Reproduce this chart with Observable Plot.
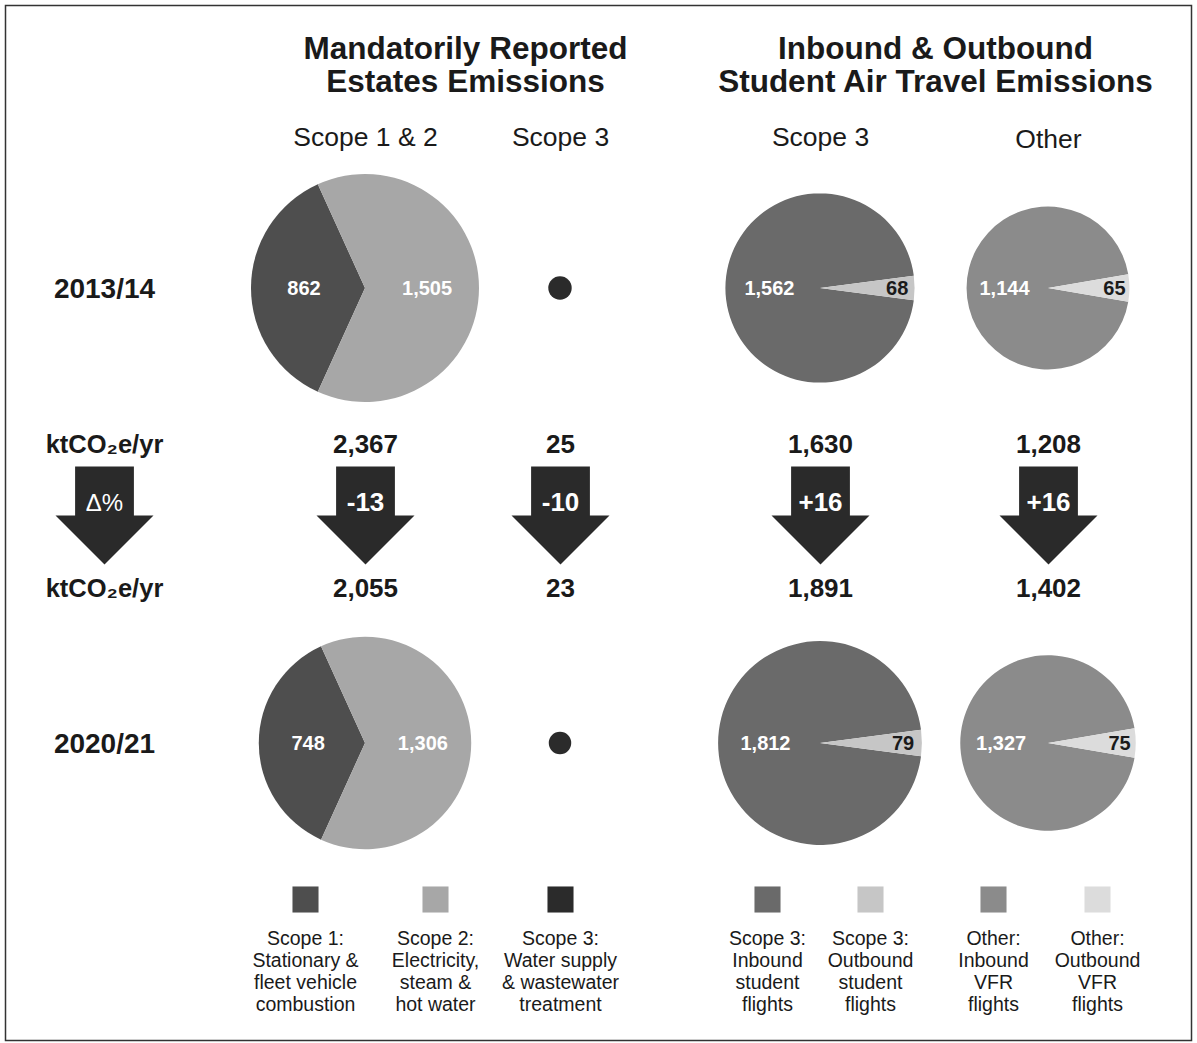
<!DOCTYPE html>
<html>
<head>
<meta charset="utf-8">
<script src="https://cdn.jsdelivr.net/npm/d3@7"></script>
<script src="https://cdn.jsdelivr.net/npm/@observablehq/plot@0.6"></script>
<style>
  html, body { margin: 0; padding: 0; background: #ffffff; }
  #chart svg { display: block; }
</style>
</head>
<body>
<div id="chart"></div>
<script>
// ---------------- DATA ----------------
const years = ["2013/14", "2020/21"];
const groupTitles = ["Mandatorily Reported\nEstates Emissions", "Inbound & Outbound\nStudent Air Travel Emissions"];
const panelNames = ["Scope 1 & 2", "Scope 3", "Scope 3", "Other"];
const unitLabel = "ktCO₂e/yr";
const changeLabel = "Δ%";

// slice values (kt CO2e / yr), index 0 = 2013/14, 1 = 2020/21
const scope1 = [862, 748];
const scope2 = [1505, 1306];
const scope3Estates = [25, 23];
const inboundStudent = [1562, 1812];
const outboundStudent = [68, 79];
const inboundVFR = [1144, 1327];
const outboundVFR = [65, 75];

// panel totals as printed
const totals2013 = [2367, 25, 1630, 1208];
const totals2021 = [2055, 23, 1891, 1402];
const changePct = [-13, -10, 16, 16];

const categories = [
  "Scope 1: Stationary & fleet vehicle combustion",
  "Scope 2: Electricity, steam & hot water",
  "Scope 3: Water supply & wastewater treatment",
  "Scope 3: Inbound student flights",
  "Scope 3: Outbound student flights",
  "Other: Inbound VFR flights",
  "Other: Outbound VFR flights"
];
const legendLabels = [
  "Scope 1:\nStationary &\nfleet vehicle\ncombustion",
  "Scope 2:\nElectricity,\nsteam &\nhot water",
  "Scope 3:\nWater supply\n& wastewater\ntreatment",
  "Scope 3:\nInbound\nstudent\nflights",
  "Scope 3:\nOutbound\nstudent\nflights",
  "Other:\nInbound\nVFR\nflights",
  "Other:\nOutbound\nVFR\nflights"
];

// ---------------- STYLE / LAYOUT ----------------
const categoryColors = ["#4e4e4e", "#a7a7a7", "#2b2b2b", "#6a6a6a", "#c6c6c6", "#8b8b8b", "#dcdcdc"];
const W = 1197, H = 1043;
const FONT = "Liberation Sans, Arial, Helvetica, sans-serif";
const INK = "#1a1a1a";
const ARROW = "#2a2a2a";
const labelX = 104;
const panelX = [365, 560, 820, 1048];
const groupX = [465, 935];
const legendX = [305, 435, 560, 767, 870, 993, 1097];
const Y = {title: 64, sub: 137, pie: [288, 743], valTop: 444, arrow: 515, arrowText: 502, valBottom: 588, legendSq: 899, legendText: 970};
const rOpts = {type: "sqrt", domain: [0, 2367], range: [0, 114]};
const rScale = Plot.scale({r: rOpts});

// ---------------- DERIVED TABLES ----------------
const fmt = d3.format(",");
const pies = [];
years.forEach((yr, i) => {
  const tot = i === 0 ? totals2013 : totals2021;
  pies.push({panel: 0, row: i, total: tot[0], slices: [{cat: categories[0], value: scope1[i]}, {cat: categories[1], value: scope2[i]}]});
  pies.push({panel: 1, row: i, total: tot[1], slices: [{cat: categories[2], value: scope3Estates[i]}], nolabel: true});
  pies.push({panel: 2, row: i, total: tot[2], slices: [{cat: categories[3], value: inboundStudent[i]}, {cat: categories[4], value: outboundStudent[i]}]});
  pies.push({panel: 3, row: i, total: tot[3], slices: [{cat: categories[5], value: inboundVFR[i]}, {cat: categories[6], value: outboundVFR[i]}]});
});

function pieArcs(p) {
  const sum = d3.sum(p.slices, d => d.value);
  const a0 = 2 * Math.PI * p.slices[0].value / sum;
  const start = 1.5 * Math.PI - a0 / 2;
  return d3.pie().sort(null).value(d => d.value).startAngle(start).endAngle(start + 2 * Math.PI)(p.slices)
    .map(a => ({...a, share: a.data.value / sum}));
}

const pieLabels = [];
for (const p of pies) {
  if (p.nolabel) continue;
  const cx = panelX[p.panel], cy = Y.pie[p.row], r = rScale.apply(p.total);
  for (const a of pieArcs(p)) {
    const mid = (a.startAngle + a.endAngle) / 2;
    const k = a.share < 0.1 ? 0.81 : 0.54;
    pieLabels.push({x: cx + k * r * Math.sin(mid), y: cy - k * r * Math.cos(mid), text: fmt(a.data.value), small: a.share < 0.1});
  }
}

const panelRows = panelNames.map((name, j) => ({name, x: panelX[j], top: totals2013[j], bottom: totals2021[j], change: changePct[j]}));
const arrowRows = [{x: labelX}, ...panelRows.map(d => ({x: d.x}))];
const legendRows = categories.map((c, j) => ({cat: c, label: legendLabels[j], x: legendX[j]}));

// custom arrow symbol (shaft + head), sized by r
const arrowSymbol = {
  draw(ctx, size) {
    const r = Math.sqrt(size / Math.PI);
    const sw = 0.6 * r;
    ctx.moveTo(-sw, -r);
    ctx.lineTo(sw, -r);
    ctx.lineTo(sw, 0);
    ctx.lineTo(r, 0);
    ctx.lineTo(0, r);
    ctx.lineTo(-r, 0);
    ctx.lineTo(-sw, 0);
    ctx.closePath();
  }
};

// function mark drawing the pie slices through the plot's scales
function pieMark(index, scales) {
  const g = d3.create("svg:g");
  for (const p of pies) {
    const cx = scales.x(panelX[p.panel]);
    const cy = scales.y(Y.pie[p.row]);
    const r = rScale.apply(p.total);
    const arc = d3.arc().innerRadius(0).outerRadius(r);
    g.append("g").attr("transform", `translate(${cx},${cy})`)
      .selectAll("path").data(pieArcs(p)).join("path")
      .attr("d", arc)
      .attr("fill", d => scales.color(d.data.cat));
  }
  return g.node();
}

// ---------------- PLOT ----------------
const chart = Plot.plot({
  width: W,
  height: H,
  margin: 0,
  style: {fontFamily: FONT, background: "#ffffff", color: INK},
  x: {domain: [0, W], range: [0, W], axis: null},
  y: {domain: [0, H], range: [0, H], axis: null},
  r: rOpts,
  color: {domain: categories, range: categoryColors},
  marks: [
    Plot.frame({stroke: "#333333", strokeWidth: 1.5, insetLeft: 5, insetTop: 5, insetRight: 6, insetBottom: 3}),
    // group titles
    Plot.text(groupTitles, {x: (d, i) => groupX[i], y: Y.title, text: d => d, fontSize: 31.5, fontWeight: "bold", lineHeight: 1.06, fill: INK}),
    // panel subtitles
    Plot.text(panelRows, {x: "x", y: (d, i) => Y.sub + (i === 3 ? 2 : 0), text: "name", fontSize: 26.5, fill: INK}),
    // year labels
    Plot.text(years, {x: labelX, y: (d, i) => Y.pie[i] + 1, text: d => d, fontSize: 28, fontWeight: "bold", fill: INK}),
    // pies
    pieMark,
    Plot.text(pieLabels, {x: "x", y: "y", text: "text", fontSize: 20, fontWeight: "bold", fill: d => d.small ? INK : "#ffffff"}),
    // unit labels
    Plot.text([unitLabel, unitLabel], {x: labelX, y: (d, i) => i === 0 ? Y.valTop : Y.valBottom, text: d => d, fontSize: 25.5, fontWeight: "bold", fill: INK}),
    // totals
    Plot.text(panelRows, {x: "x", y: Y.valTop, text: d => fmt(d.top), fontSize: 26, fontWeight: "bold", fill: INK}),
    Plot.text(panelRows, {x: "x", y: Y.valBottom, text: d => fmt(d.bottom), fontSize: 26, fontWeight: "bold", fill: INK}),
    // arrows
    Plot.dot(arrowRows, {x: "x", y: Y.arrow, r: 49, symbol: arrowSymbol, fill: ARROW, stroke: null}),
    Plot.text([changeLabel], {x: labelX, y: Y.arrowText + 1, text: d => d, fontSize: 24, fill: "#ffffff"}),
    Plot.text(panelRows, {x: "x", y: Y.arrowText, text: d => (d.change > 0 ? "+" : "") + d.change, fontSize: 26, fontWeight: "bold", fill: "#ffffff"}),
    // legend
    Plot.dot(legendRows, {x: "x", y: Y.legendSq, symbol: "square", r: 14.7, fill: "cat", stroke: null}),
    Plot.text(legendRows, {x: "x", y: Y.legendText, text: "label", fontSize: 19.5, lineHeight: 1.13, fill: INK})
  ]
});
document.getElementById("chart").appendChild(chart);
</script>
</body>
</html>
